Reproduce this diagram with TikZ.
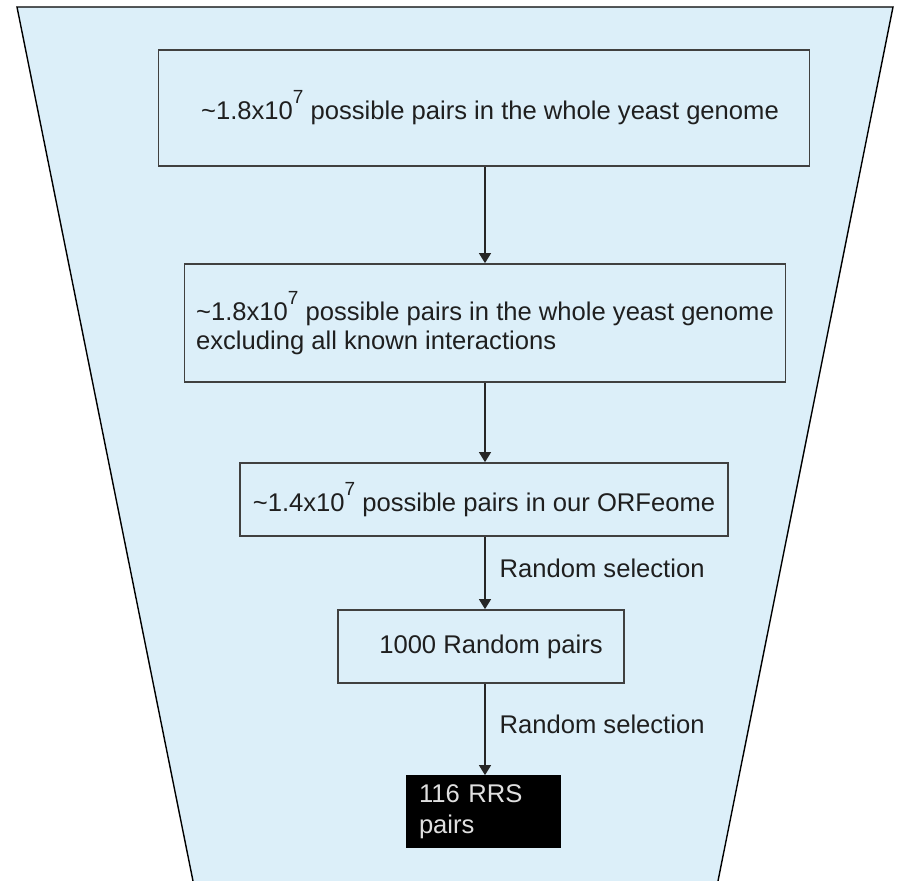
\documentclass[tikz,border=0pt]{standalone}
\usepackage{fontspec}
\setmainfont{Liberation Sans}
\usetikzlibrary{arrows.meta}
\definecolor{funnelblue}{RGB}{220,239,249}
\definecolor{boxline}{RGB}{64,64,64}

\begin{document}
\begin{tikzpicture}[x=.5pt, y=-.5pt, font=\fontsize{12.8}{14.5}\selectfont, text=black!88,
	stage/.style={draw=boxline, line width=.85pt, fill=funnelblue, inner sep=0pt, align=left},
	link/.style={-{Triangle[width=6pt,length=5pt]}, line width=.65pt, draw=black!85},
	note/.style={right, inner sep=0pt, xshift=7pt, yshift=2.5pt}]
	\def\tento{x10\raisebox{.62em}{\fontsize{9.5}{9.5}\selectfont 7}}
	\useasboundingbox (0,0) rectangle (900,881);
	\fill[funnelblue] (17,7) -- (893,7) -- (718,881) -- (193,881) -- cycle;
	\draw[line width=.7pt] (193,881) -- (17,7) -- (893,7) -- (718,881);
	\coordinate (axis) at (485,0);

	\node[stage, minimum width=325.5pt, minimum height=58pt] (whole) at (484,108)
		{\hspace{6pt}\textasciitilde1.8\tento\ possible pairs in the whole yeast genome};
	\node[stage, minimum width=300.5pt, minimum height=59pt] (noknown) at (485,323)
		{\textasciitilde1.8\tento\ possible pairs in the whole yeast genome\\excluding all known interactions};
	\node[stage, minimum width=244pt, minimum height=36.5pt] (orf) at (484,499.5)
		{\textasciitilde1.4\tento\ possible pairs in our ORFeome};
	\node[stage, minimum width=143pt, minimum height=36.5pt] (rand) at (481,646.5)
		{\hspace{10pt}1000 Random pairs};
	\node[stage, fill=black, draw=black, text=white!88!black, minimum width=76.5pt, minimum height=35.5pt,
		inner xsep=6pt, text width=64.5pt, font=\fontsize{12.8}{15.5}\selectfont] (rrs) at (483.5,811.5)
		{116 RRS\\pairs};

	\draw[link] (axis |- whole.south) -- (axis |- noknown.north);
	\draw[link] (axis |- noknown.south) -- (axis |- orf.north);
	\draw[link] (axis |- orf.south) -- node[note] {Random selection} (axis |- rand.north);
	\draw[link] (axis |- rand.south) -- node[note] {Random selection} (axis |- rrs.north);
\end{tikzpicture}
\end{document}
